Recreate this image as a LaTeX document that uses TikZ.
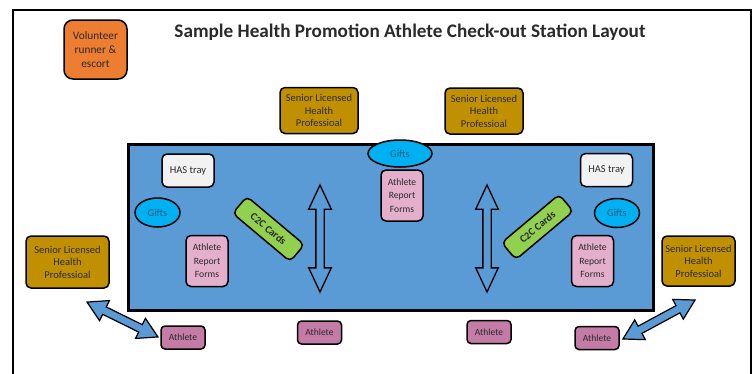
\documentclass[tikz,border=0pt]{standalone}
\usepackage{fontspec}
\setmainfont{Carlito}
\usetikzlibrary{shapes.geometric,shapes.arrows}
\definecolor{orangebox}{HTML}{ED7D31}
\definecolor{goldbox}{HTML}{C09000}
\definecolor{floorblue}{HTML}{5B9BD5}
\definecolor{giftcyan}{HTML}{00B0F0}
\definecolor{traygray}{HTML}{F2F2F2}
\definecolor{formpink}{HTML}{E3AFCB}
\definecolor{athmauve}{HTML}{C47BA6}
\definecolor{cardgreen}{HTML}{92D050}
\definecolor{txt}{HTML}{2A2A2A}
\definecolor{gifttxt}{HTML}{1F5E8C}
\begin{document}
\begin{tikzpicture}[x=1pt,y=-1pt,
  box/.style={draw=black, line width=1.5pt, rounded corners=5pt, align=center,
    text=txt, inner sep=0pt, font=\fontsize{10.5}{12.5}\selectfont},
  slhp/.style={box, fill=goldbox, minimum width=78pt, minimum height=46pt},
  tray/.style={box, fill=traygray, minimum width=52pt, minimum height=33pt},
  gift/.style={ellipse, draw=black, line width=1.5pt, fill=giftcyan, text=gifttxt,
    inner sep=0pt, font=\fontsize{10.5}{12.5}\selectfont},
  arf/.style={box, fill=formpink, minimum width=42pt, minimum height=51pt,
    font=\fontsize{9.6}{13.5}\selectfont},
  ath/.style={box, fill=athmauve, minimum width=44pt, minimum height=23pt,
    font=\fontsize{9.5}{11}\selectfont, rounded corners=4pt},
  card/.style={box, fill=cardgreen, minimum width=75pt, minimum height=22pt,
    font=\bfseries\fontsize{10.5}{12}\selectfont},
  vdouble/.style={double arrow, draw=black, line width=1.3pt, fill=floorblue,
    inner sep=0pt, inner ysep=3.5pt, minimum height=107pt, minimum width=21pt,
    double arrow tip angle=50},
  ddouble/.style={double arrow, draw=black, line width=1.2pt, fill=floorblue,
    inner sep=0pt, inner ysep=3.5pt, minimum width=17pt,
    double arrow tip angle=60}
]
\useasboundingbox (0,0) rectangle (755,373);
\fill[white] (0,0) rectangle (755,373);
% outer frame (bottom edge lies below the picture)
\draw[line width=1.4pt] (13,390) -- (13,10) -- (751,10) -- (751,390);

\node[font=\bfseries\fontsize{19.2}{22}\selectfont, text=txt] (title) at (410,32)
  {Sample Health Promotion Athlete Check-out Station Layout};

\node[box, fill=orangebox, rounded corners=9pt, minimum width=63pt, minimum height=59pt,
  font=\fontsize{11.3}{13.8}\selectfont] (vol) at (95.5,49.5) {Volunteer\\runner \&\\escort};

\node[slhp] (slhpA) at (319,110.5) {Senior Licensed\\Health\\Professioal};
\node[slhp] (slhpB) at (484,111) {Senior Licensed\\Health\\Professioal};

% station floor
\node[draw=black, line width=3pt, fill=floorblue, minimum width=525pt, minimum height=166pt,
  inner sep=0pt] (floor) at (390.5,227) {};

\node[gift, minimum width=64pt, minimum height=27pt] (giftT) at (400,153.5) {Gifts};
\node[tray] (trayL) at (188,170.5) {HAS tray};
\node[tray] (trayR) at (606.5,170) {HAS tray};
\node[gift, minimum width=45pt, minimum height=29pt] (giftL) at (157.5,212.5) {Gifts};
\node[gift, minimum width=45pt, minimum height=29pt] (giftR) at (617,213) {Gifts};

\node[arf] (arfT) at (402,195.5) {Athlete\\Report\\Forms};
\node[arf] (arfL) at (207,261) {Athlete\\Report\\Forms};
\node[arf] (arfR) at (592.5,261) {Athlete\\Report\\Forms};

\node[card, rotate=-40] (cardL) at (268.5,229) {C2C Cards};
\node[card, rotate=40] (cardR) at (537.5,227) {C2C Cards};

\node[vdouble, rotate=90] (flowL) at (320,238.5) {};
\node[vdouble, rotate=90] (flowR) at (487,238.5) {};

\node[slhp, minimum width=83pt, minimum height=52pt] (slhpC) at (67.5,262) {Senior Licensed\\Health\\Professioal};
\node[slhp, minimum width=73pt, minimum height=50pt] (slhpD) at (698.5,261) {Senior Licensed\\Health\\Professioal};

\node[ath] (ath1) at (183,337.5) {Athlete};
\node[ath] (ath2) at (319.5,332.5) {Athlete};
\node[ath] (ath3) at (489,332) {Athlete};
\node[ath] (ath4) at (597,338) {Athlete};

\node[ddouble, minimum height=79pt, rotate=-26.2] (moveL) at (122.5,319.5) {};
\node[ddouble, minimum height=82pt, rotate=28.4] (moveR) at (659,319.5) {};
\end{tikzpicture}
\end{document}
